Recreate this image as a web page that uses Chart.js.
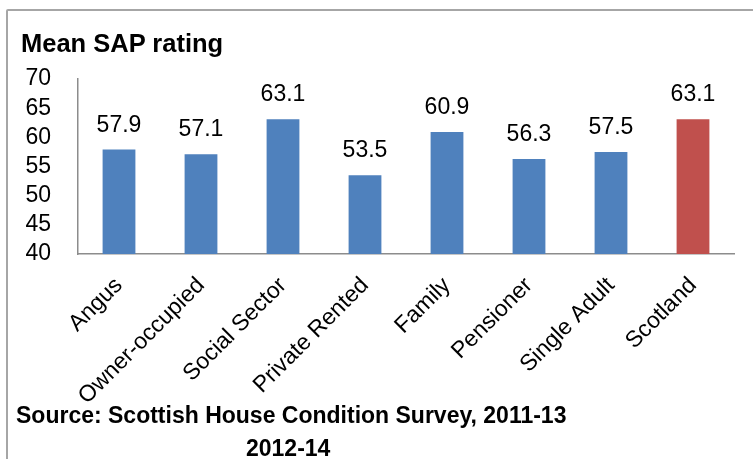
<!DOCTYPE html>
<html>
<head>
<meta charset="utf-8">
<script src="https://cdn.jsdelivr.net/npm/chart.js@4"></script>
<style>
    body { margin: 0; background: #fff; }
    .wrap { position: relative; width: 753px; height: 459px; overflow: hidden; font-family: "Liberation Sans", Arial, sans-serif; }
    .frame { position: absolute; left: 6px; top: 9px; width: 800px; height: 500px; border: 2px solid #a6a6a6; border-radius: 2px; }
    .title { position: absolute; left: 21px; top: 31px; font-size: 25.5px; line-height: 25px; font-weight: bold; color: #000; white-space: nowrap; }
    .source { position: absolute; font-size: 23px; line-height: 23px; font-weight: bold; color: #000; white-space: nowrap; }
    canvas { position: absolute; left: 0; top: 0; }
</style>
</head>
<body>
<div class="wrap">
    <div class="frame"></div>
    <canvas id="myChart" width="753" height="459"></canvas>
    <div class="title">Mean SAP rating</div>
    <div class="source" style="left:16px; top:404px;">Source: Scottish House Condition Survey, 2011-13</div>
    <div class="source" style="left:246px; top:437px;">2012-14</div>
</div>
<script>
const categories = ['Angus', 'Owner-occupied', 'Social Sector', 'Private Rented', 'Family', 'Pensioner', 'Single Adult', 'Scotland'];
const ratings = [57.9, 57.1, 63.1, 53.5, 60.9, 56.3, 57.5, 63.1];
const barColours = ['#4f81bd', '#4f81bd', '#4f81bd', '#4f81bd', '#4f81bd', '#4f81bd', '#4f81bd', '#c0504d'];
const yMin = 40;
const yMax = 70;
const yStep = 5;

const fontFamily = '"Liberation Sans", Arial, sans-serif';

// values written above each bar
const valueLabels = {
    id: 'valueLabels',
    afterDatasetsDraw(chart) {
        const ctx = chart.ctx;
        const meta = chart.getDatasetMeta(0);
        ctx.save();
        ctx.font = '23px ' + fontFamily;
        ctx.fillStyle = '#000';
        ctx.textAlign = 'center';
        ctx.textBaseline = 'alphabetic';
        meta.data.forEach((bar, i) => {
            ctx.fillText(ratings[i].toFixed(1), bar.x, bar.y - 18);
        });
        ctx.restore();
    }
};

const ctx = document.getElementById('myChart').getContext('2d');
new Chart(ctx, {
    type: 'bar',
    data: {
        labels: categories,
        datasets: [{
            data: ratings,
            backgroundColor: barColours,
            barPercentage: 0.4,
            categoryPercentage: 1
        }]
    },
    options: {
        responsive: false,
        animation: false,
        layout: { padding: { top: 79, right: 19, left: 0, bottom: 0 } },
        plugins: {
            legend: { display: false },
            tooltip: { enabled: false }
        },
        scales: {
            y: {
                min: yMin,
                max: yMax,
                grid: { display: false },
                border: { display: true, color: '#8c8c8c', width: 1.5 },
                ticks: {
                    stepSize: yStep,
                    autoSkip: false,
                    color: '#000',
                    padding: 19,
                    font: { family: fontFamily, size: 23 }
                },
                afterFit: scale => { scale.width = 78; }
            },
            x: {
                grid: { display: false },
                border: { display: true, color: '#8c8c8c', width: 1.5 },
                ticks: {
                    color: '#000',
                    minRotation: 45,
                    maxRotation: 45,
                    autoSkip: false,
                    padding: 10,
                    font: { family: fontFamily, size: 23 }
                },
                afterFit: scale => { scale.height = 205; }
            }
        }
    },
    plugins: [valueLabels]
});
</script>
</body>
</html>
